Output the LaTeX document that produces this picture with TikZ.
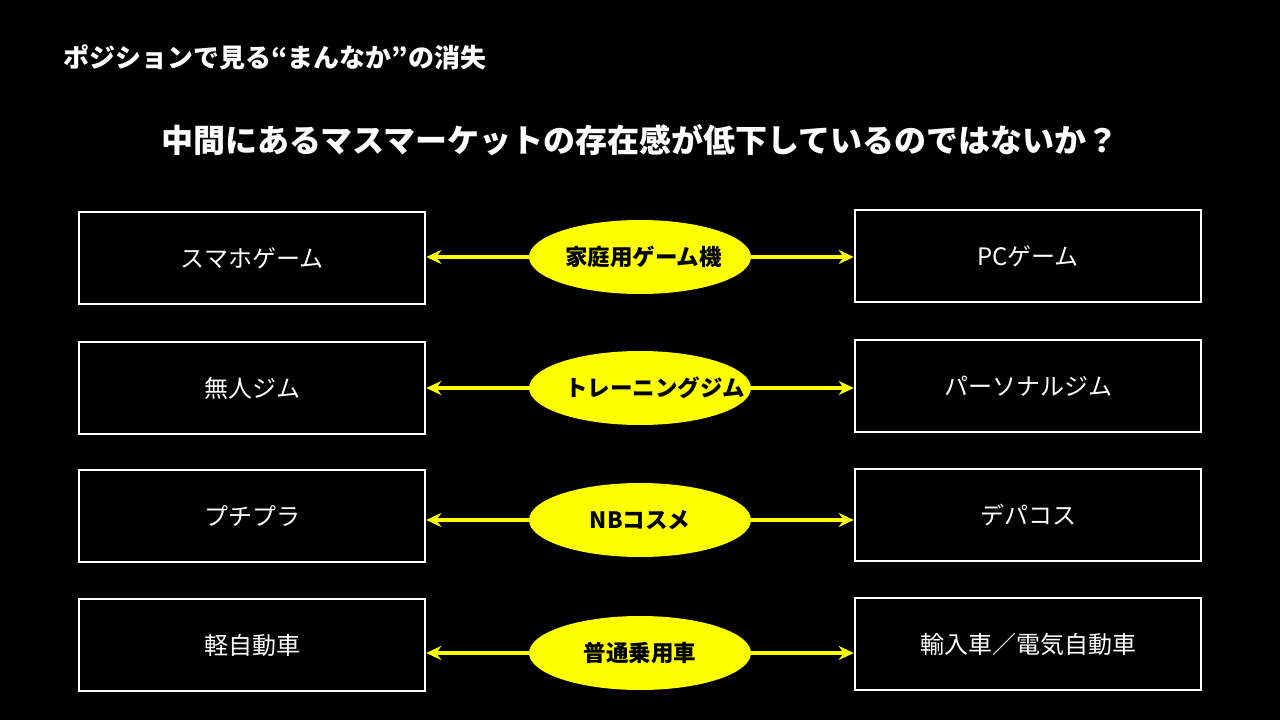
\documentclass[tikz,border=0pt]{standalone}
\usepackage{fontspec}
\setmainfont{Noto Sans CJK JP}
\usetikzlibrary{arrows.meta,shapes.geometric}
\definecolor{hilite}{RGB}{255,255,0}
\tikzset{
  seg/.style={draw=white,line width=2.5pt,minimum width=346pt,minimum height=92pt,
    text=white,font=\fontsize{24}{28}\selectfont},
  mid/.style={ellipse,fill=hilite,minimum width=222pt,minimum height=74pt,inner sep=0pt,
    text width=150pt,align=center,font=\bfseries\fontsize{22.5}{27}\selectfont},
  link/.style={hilite,line width=3.5pt,-{Stealth[length=15pt,width=14pt]}}
}
\begin{document}
\begin{tikzpicture}[x=1pt,y=-1pt]
	\fill[black] (0,0) rectangle (1280,720);
	\useasboundingbox (0,0) rectangle (1280,720);
	\node[anchor=west,text=white,font=\bfseries\fontsize{26}{30}\selectfont] (head) at (60,57) {ポジションで見る“まんなか”の消失};
	\node[text=white,font=\bfseries\fontsize{32}{36}\selectfont] (title) at (640,140) {中間にあるマスマーケットの存在感が低下しているのではないか？};

	\node[seg] (l1) at (252,258) {スマホゲーム};
	\node[seg] (r1) at (1028,256) {PCゲーム};
	\node[mid] (m1) at (640,257) {家庭用ゲーム機};
	\node[seg] (l2) at (252,388) {無人ジム};
	\node[seg] (r2) at (1028,386) {パーソナルジム};
	\node[mid] (m2) at (640,388) {トレーニングジム};
	\node[seg] (l3) at (252,516) {プチプラ};
	\node[seg] (r3) at (1028,515) {デパコス};
	\node[mid] (m3) at (640,520) {NBコスメ};
	\node[seg] (l4) at (252,645) {軽自動車};
	\node[seg] (r4) at (1028,644) {輸入車／電気自動車};
	\node[mid] (m4) at (640,653) {普通乗用車};

	\foreach \i in {1,...,4} {
		\draw[link] (m\i.west) -- (l\i.east |- m\i.west);
		\draw[link] (m\i.east) -- (r\i.west |- m\i.east);
	}
\end{tikzpicture}
\end{document}
